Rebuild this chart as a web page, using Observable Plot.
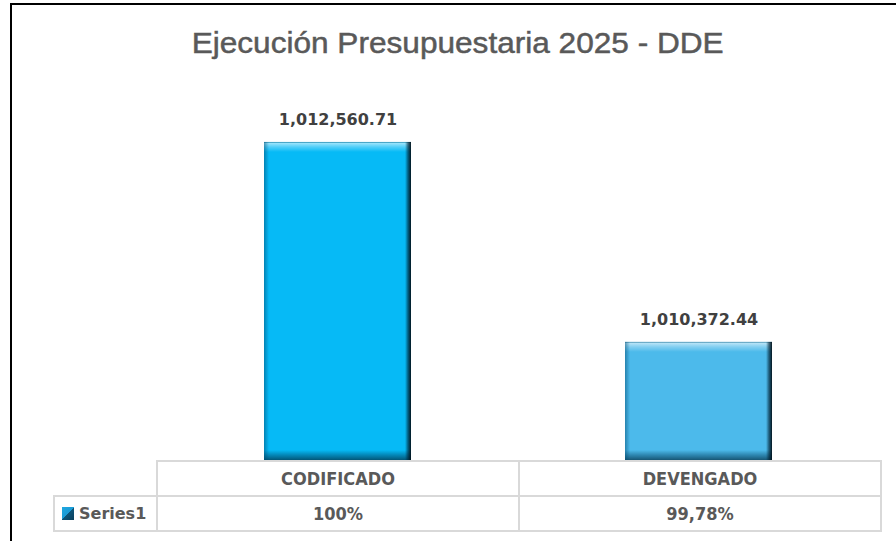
<!DOCTYPE html>
<html>
<head>
<meta charset="utf-8">
<script src="https://cdn.jsdelivr.net/npm/d3@7"></script>
<script src="https://cdn.jsdelivr.net/npm/@observablehq/plot@0.6"></script>
<style>
  html, body { margin: 0; padding: 0; background: #fff; }
  #wrap { position: relative; width: 896px; height: 541px; overflow: hidden; background: #fff; }
  #frame { position: absolute; left: 10px; top: 3px; width: 900px; height: 560px;
           border-left: 2px solid #000; border-top: 2px solid #000; box-sizing: border-box; }
  #title { position: absolute; top: 28px; left: 0; width: 916px; text-align: center;
           font-family: "Liberation Sans", Arial, sans-serif;
           font-size: 30px; line-height: 30px; color: #595959; white-space: nowrap;
           -webkit-text-stroke: 0.5px #595959; }
  #title span { display: inline-block; transform-origin: center; }
  #chart { position: absolute; left: 0; top: 0; }
  #tbl { position: absolute; left: 53px; top: 460px; border-collapse: collapse; table-layout: fixed; width: 827px; }
  #tbl td { border: 2px solid #d9d9d9; height: 33px; padding: 0; text-align: center; vertical-align: middle;
            font-family: "DejaVu Sans Condensed", "Liberation Sans", sans-serif; font-weight: bold;
            font-size: 18px; color: #595959; }
  #tbl td.blank { border: none; }
  #tbl td.series { text-align: left; padding-left: 7px; font-family: "DejaVu Sans", sans-serif; font-size: 16px; }
  .sw { display: inline-block; width: 12px; height: 13px; vertical-align: -1px; margin-right: 5px;
        background: linear-gradient(135deg, #1fa8e0 0%, #1a9bd6 48%, #0d5478 52%, #0a3f5c 100%); }
</style>
</head>
<body>
<div id="wrap">
  <div id="frame"></div>
  <div id="title"><span id="titleText"></span></div>
  <div id="chart"></div>
  <table id="tbl"></table>
</div>
<script>
// ---- data ----
const titleText = "Ejecución Presupuestaria 2025 - DDE";
const categories = ["CODIFICADO", "DEVENGADO"];
const values = [1012560.71, 1010372.44];
const percentLabels = ["100%", "99,78%"];
const seriesName = "Series1";
const barColors = ["#06BAF6", "#4CBAEB"];
const yDomain = [1009080, 1013020];

const data = categories.map((c, i) => ({cat: c, value: values[i], color: barColors[i]}));
const fmt = d3.format(",.2f");

// title
const tt = document.getElementById("titleText");
tt.textContent = titleText;

const bandInset = 107;
const edge = 6;
const band = 361;

const chart = Plot.plot({
  width: 896,
  height: 461,
  marginLeft: 156,
  marginRight: 17,
  marginTop: 100,
  marginBottom: 1,
  x: {domain: categories, padding: 0, axis: null},
  y: {domain: yDomain, axis: null},
  marks: [
    Plot.barY(data, {x: "cat", y1: () => yDomain[0], y2: "value", fill: "color",
      insetLeft: bandInset, insetRight: bandInset}),
    Plot.barY(data, {x: "cat", y1: "value", y2: "value", insetBottom: -10,
      insetLeft: bandInset, insetRight: bandInset, fill: "url(#gTop)"}),
    Plot.barY(data, {x: "cat", y1: () => yDomain[0], y2: () => yDomain[0], insetTop: -10,
      insetLeft: bandInset, insetRight: bandInset, fill: "url(#gBottom)"}),
    Plot.barY(data, {x: "cat", y1: () => yDomain[0], y2: "value",
      insetLeft: bandInset, insetRight: band - bandInset - 5, fill: "url(#gLeft)"}),
    Plot.barY(data, {x: "cat", y1: () => yDomain[0], y2: "value",
      insetLeft: band - bandInset - edge, insetRight: bandInset, fill: "url(#gRight)"}),
    Plot.text(data, {x: "cat", y: "value", text: d => fmt(d.value), dy: -17, lineAnchor: "bottom",
      fontFamily: "DejaVu Sans, sans-serif", fontWeight: "bold", fontSize: 16, fill: "#404040"})
  ]
});

const svg = d3.select(chart);
const defs = svg.insert("defs", ":first-child");
function grad(id, x2, y2, stops) {
  const g = defs.append("linearGradient").attr("id", id)
    .attr("x1", 0).attr("y1", 0).attr("x2", x2).attr("y2", y2);
  stops.forEach(([o, c, a]) => g.append("stop").attr("offset", o).attr("stop-color", c).attr("stop-opacity", a));
}
grad("gTop", 0, 1, [[0, "#0a4a66", 0.6], [0.12, "#ffffff", 0.6], [0.5, "#ffffff", 0.3], [1, "#ffffff", 0]]);
grad("gBottom", 0, 1, [[0, "#003a58", 0], [0.5, "#003a58", 0.4], [1, "#002a40", 0.7]]);
grad("gLeft", 1, 0, [[0, "#004a70", 0.5], [1, "#004a70", 0]]);
grad("gRight", 1, 0, [[0, "#001f30", 0], [0.5, "#001f30", 0.6], [1, "#000d15", 0.95]]);
document.getElementById("chart").appendChild(chart);

// table
const tbl = d3.select("#tbl");
const cg = tbl.append("colgroup");
cg.append("col").style("width", "103px");
categories.forEach(() => cg.append("col").style("width", "362px"));
const r1 = tbl.append("tr");
r1.append("td").attr("class", "blank");
categories.forEach(c => r1.append("td").text(c));
const r2 = tbl.append("tr");
const sc = r2.append("td").attr("class", "series");
sc.append("span").attr("class", "sw");
sc.append("span").text(seriesName);
percentLabels.forEach(p => r2.append("td").text(p));

// fit title width to the reference
const w = tt.getBoundingClientRect().width;
tt.style.transform = `scaleX(${532 / w})`;
</script>
</body>
</html>
